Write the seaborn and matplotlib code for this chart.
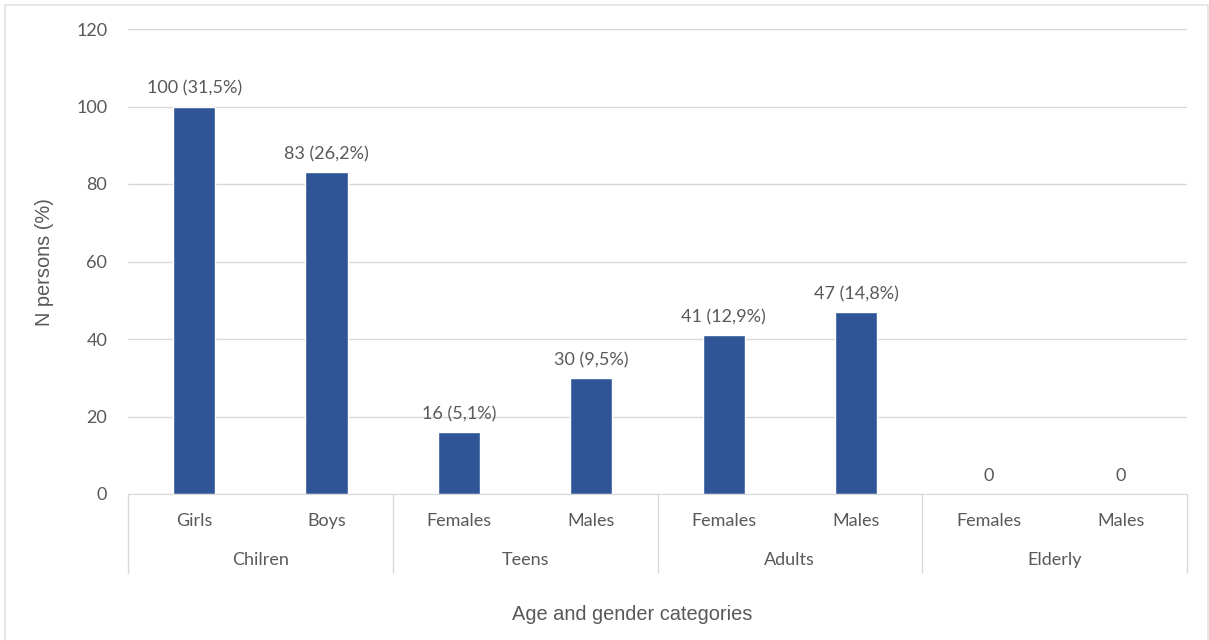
import pandas as pd
import matplotlib.pyplot as plt
import matplotlib.transforms as mtransforms
from matplotlib.patches import Rectangle
import seaborn as sns

# data
groups = ["Chilren", "Teens", "Adults", "Elderly"]
subgroups = ["Girls", "Boys", "Females", "Males", "Females", "Males", "Females", "Males"]
group_of_bar = ["Chilren", "Chilren", "Teens", "Teens", "Adults", "Adults", "Elderly", "Elderly"]
counts = [100, 83, 16, 30, 41, 47, 0, 0]
labels = ["100 (31,5%)", "83 (26,2%)", "16 (5,1%)", "30 (9,5%)",
          "41 (12,9%)", "47 (14,8%)", "0", "0"]

df = pd.DataFrame({
    "key": [g + " " + s for g, s in zip(group_of_bar, subgroups)],
    "sub": subgroups,
    "group": group_of_bar,
    "n": counts,
})

sns.set_style("white")
plt.rcParams["font.family"] = ["Lato", "DejaVu Sans"]
text_col = "#595959"
grid_col = "#d9d9d9"
fs = 13

fig = plt.figure(figsize=(12.09, 6.4), dpi=100)
ax = fig.add_axes([128 / 1209, (640 - 494) / 640, (1187 - 128) / 1209, 465 / 640])

sns.barplot(data=df, x="key", y="n", color="#2F5597", width=0.32,
            saturation=1, ax=ax)

ax.set_ylim(0, 120)
ax.set_xlim(-0.5, len(df) - 0.5)
ax.set_yticks(range(0, 121, 20))
ax.yaxis.grid(True, color=grid_col, linewidth=1)
ax.set_axisbelow(True)
for s in ["top", "right", "left"]:
    ax.spines[s].set_visible(False)
ax.spines["bottom"].set_color(grid_col)
ax.tick_params(axis="both", length=0, labelsize=fs, colors=text_col)
ax.tick_params(axis="y", pad=15)

# first level of the category axis
ax.set_xticks(range(len(df)))
ax.set_xticklabels(df["sub"])
ax.tick_params(axis="x", pad=14)

# data labels
for i, (v, lab) in enumerate(zip(counts, labels)):
    ax.annotate(lab, (i, v), xytext=(0, 7), textcoords="offset points",
                ha="center", va="bottom", fontsize=fs, color=text_col)

# second level: group names and separators
trans = mtransforms.blended_transform_factory(ax.transData, ax.transAxes)
for k, g in enumerate(groups):
    ax.text(2 * k + 0.5, -0.142, g, transform=trans, ha="center", va="center",
            fontsize=fs, color=text_col)
for xs in [-0.5, 1.5, 3.5, 5.5, 7.5]:
    ax.plot([xs, xs], [0, -0.17], transform=trans, color=grid_col,
            linewidth=1, clip_on=False)

ax.set_xlabel("")
ax.set_ylabel("")
fig.text(45 / 1209, 1 - 262 / 640, "N persons (%)", rotation=90, ha="center",
         va="center", fontsize=14.4, color=text_col, family="Liberation Sans")
fig.text(632 / 1209, 1 - 614 / 640, "Age and gender categories", ha="center",
         va="center", fontsize=14.4, color=text_col, family="Liberation Sans")

# light frame around the chart
fig.patches.append(Rectangle((5 / 1209, -0.01), 1203 / 1209, 1 - 5 / 640 + 0.01,
                             transform=fig.transFigure, fill=False,
                             edgecolor="#e3e3e3", linewidth=1.2))

fig.savefig("out.png", dpi=100)
plt.close(fig)
